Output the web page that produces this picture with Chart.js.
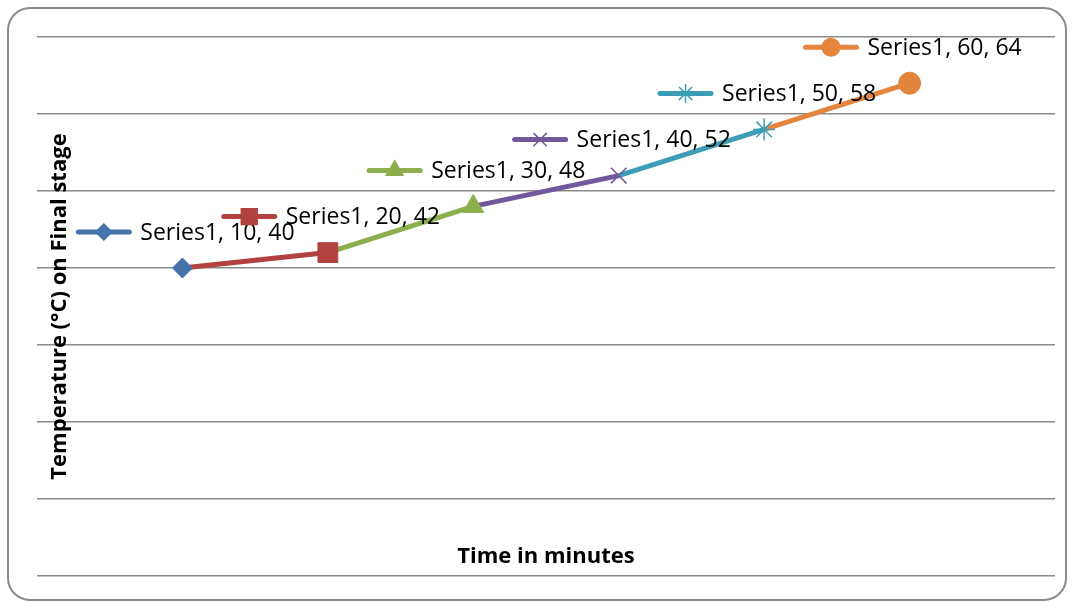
<!DOCTYPE html>
<html>
<head>
<meta charset="utf-8">
<script src="https://cdn.jsdelivr.net/npm/chart.js@4"></script>
<style>
    body { margin: 0; background: #ffffff; }
    #grafico { width: 1072px; height: 603px; }
</style>
</head>
<body>
<div id="grafico">
    <canvas id="myChartCanvas"></canvas>
</div>
<script>
// dados
let minutos = [10, 20, 30, 40, 50, 60];
let temperaturas = [40, 42, 48, 52, 58, 64];
let nomeSerie = 'Series1';
let tituloX = 'Time in minutes';
let tituloY = 'Temperature (°C) on Final stage';
let eixoY = { min: 0, max: 70, passo: 10 };

// estilo de cada ponto (cor e marcador variam por ponto, igual ao Excel)
let cores = ['#4673AB', '#B2423F', '#8DAE4C', '#71589A', '#3E9DB6', '#E3853C'];
let marcadores = ['rectRot', 'rect', 'triangle', 'crossRot', 'star', 'circle'];
let tamanhos = [10, 14, 12, 11, 11, 11];

let fonteTexto = '23px "Open Sans", "Liberation Sans", sans-serif';
let fonteTitulo = 'bold 22px "Open Sans", "Liberation Sans", sans-serif';

// moldura arredondada em volta do gráfico
const moldura = {
    id: 'moldura',
    beforeDraw(chart) {
        let ctx = chart.ctx;
        ctx.save();
        ctx.strokeStyle = '#8a8a8a';
        ctx.lineWidth = 2;
        ctx.beginPath();
        ctx.roundRect(8, 8, 1058, 592, 22);
        ctx.stroke();
        ctx.restore();
    }
};

// rótulos "Series1, x, y" com a chave da legenda na frente
const rotulos = {
    id: 'rotulos',
    afterDatasetsDraw(chart) {
        let ctx = chart.ctx;
        let meta = chart.getDatasetMeta(0);
        ctx.save();
        ctx.font = fonteTexto;
        ctx.textBaseline = 'middle';
        for (let i = 0; i < meta.data.length; i++) {
            let ponto = meta.data[i];
            let texto = `${nomeSerie}, ${minutos[i]}, ${temperaturas[i]}`;
            let largura = ctx.measureText(texto).width;
            let total = 55 + 9 + largura;
            let inicio = ponto.x - total / 2 + 3;
            let y = ponto.y - 36;

            // linha da chave
            ctx.strokeStyle = cores[i];
            ctx.lineWidth = 5;
            ctx.lineCap = 'round';
            ctx.beginPath();
            ctx.moveTo(inicio + 2, y);
            ctx.lineTo(inicio + 53, y);
            ctx.stroke();

            // marcador da chave
            ctx.fillStyle = cores[i];
            ctx.lineWidth = 1.5;
            Chart.helpers.drawPoint(ctx, {
                pointStyle: marcadores[i],
                radius: tamanhos[i] * 0.8,
                rotation: 0,
                borderWidth: 1.5
            }, inicio + 27.5, y);

            ctx.fillStyle = '#000000';
            ctx.fillText(texto, inicio + 64, y + 1);
        }
        ctx.restore();
    }
};

// títulos dos eixos ficam por cima da área do gráfico
const titulos = {
    id: 'titulos',
    afterDraw(chart) {
        let ctx = chart.ctx;
        let area = chart.chartArea;
        ctx.save();
        ctx.font = fonteTitulo;
        ctx.fillStyle = '#000000';
        ctx.textAlign = 'center';
        ctx.textBaseline = 'middle';
        ctx.fillText(tituloX, (area.left + area.right) / 2, area.bottom - 19);

        ctx.translate(area.left + 23, (area.top + area.bottom) / 2);
        ctx.rotate(-Math.PI / 2);
        ctx.fillText(tituloY, 0, 0);
        ctx.restore();
    }
};

let pontos = [];
for (let i = 0; i < minutos.length; i++) {
    pontos.push({ x: minutos[i], y: temperaturas[i] });
}

const config = {
    type: 'line',
    data: {
        datasets: [{
            label: nomeSerie,
            data: pontos,
            borderWidth: 5,
            borderColor: cores[0],
            segment: {
                borderColor: ctx => cores[ctx.p1DataIndex]
            },
            pointStyle: marcadores,
            pointRadius: tamanhos,
            pointHoverRadius: tamanhos,
            pointBackgroundColor: cores,
            pointBorderColor: cores,
            pointBorderWidth: [1, 1, 1, 1.5, 1.5, 1],
            tension: 0
        }]
    },
    options: {
        responsive: true,
        maintainAspectRatio: false,
        animation: false,
        layout: {
            padding: { left: 37, right: 17, top: 37, bottom: 27 }
        },
        plugins: {
            legend: { display: false },
            tooltip: { enabled: false }
        },
        scales: {
            x: {
                type: 'linear',
                display: false,
                min: 0,
                max: 70
            },
            y: {
                min: eixoY.min,
                max: eixoY.max,
                ticks: { display: false, stepSize: eixoY.passo },
                grid: { color: '#8a8a8a', lineWidth: 1.5, drawTicks: false },
                border: { display: false }
            }
        }
    },
    plugins: [moldura, rotulos, titulos]
};

let myChart = new Chart(document.getElementById('myChartCanvas'), config);
</script>
</body>
</html>
